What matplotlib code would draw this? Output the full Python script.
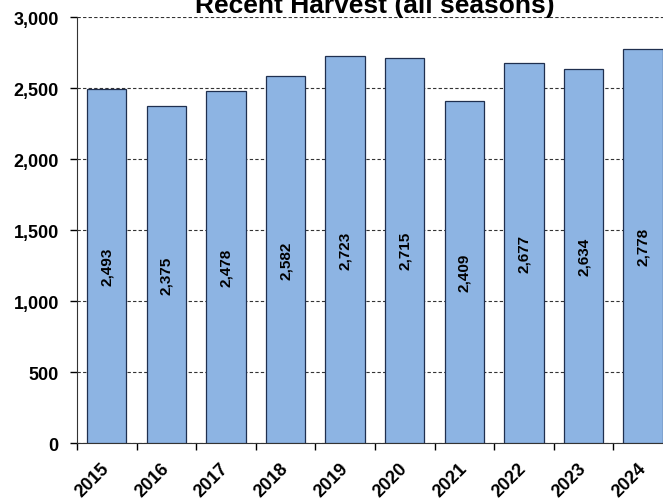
import numpy as np
import matplotlib
matplotlib.use('Agg')
import matplotlib.pyplot as plt
from matplotlib.ticker import FuncFormatter, MultipleLocator

plt.rcParams['font.family'] = ['Liberation Sans', 'DejaVu Sans']

# --- data ---
years = ['2015', '2016', '2017', '2018', '2019', '2020', '2021', '2022', '2023', '2024']
harvest = [2493, 2375, 2478, 2582, 2723, 2715, 2409, 2677, 2634, 2778]

BAR_FILL = '#8db4e3'
BAR_EDGE = '#1f2f4f'

fig = plt.figure(figsize=(6.63, 5.02), dpi=100)
fig.patch.set_facecolor('white')
# axes run past the right edge, as in the reference the last bar is cut
ax = fig.add_axes([0.116, 0.1155, 0.899, 0.8485])

x = np.arange(len(years))
ax.bar(x, harvest, width=0.66, color=BAR_FILL, edgecolor=BAR_EDGE, linewidth=0.9, zorder=3)

for xi, v in zip(x, harvest):
    ax.text(xi, v / 2, f'{v:,}', rotation=90, ha='center', va='center',
            fontsize=11, fontweight='bold', color='black', zorder=4)

ax.set_xlim(-0.5, len(years) - 0.5)
ax.set_ylim(0, 3000)
ax.yaxis.set_major_locator(MultipleLocator(500))
ax.yaxis.set_major_formatter(FuncFormatter(lambda v, p: f'{int(v):,}'))
ax.grid(axis='y', linestyle=(0, (3, 2)), color='#333333', linewidth=0.8, zorder=1)
ax.set_axisbelow(True)

# ticks at category boundaries, labels at category centres
ax.set_xticks(np.arange(len(years) + 1) - 0.5)
ax.set_xticklabels([])
ax.tick_params(axis='x', which='major', length=5, width=1, direction='out')
ax.set_xticks(x, minor=True)
ax.set_xticklabels(years, minor=True, rotation=45, ha='right', va='center',
                   rotation_mode='anchor', fontsize=13, fontweight='bold')
ax.tick_params(axis='x', which='minor', length=0, pad=16)

ax.tick_params(axis='y', length=5, width=1, direction='out', labelsize=13, pad=8)
for lab in ax.get_yticklabels():
    lab.set_fontweight('bold')

for s in ['top', 'right']:
    ax.spines[s].set_visible(False)
ax.spines['left'].set_color('#333333')
ax.spines['bottom'].set_color('#333333')

ax.set_title('Recent Harvest (all seasons)', fontsize=19, fontweight='bold', pad=4)

plt.savefig('out.png', dpi=100, facecolor='white')
plt.close()
